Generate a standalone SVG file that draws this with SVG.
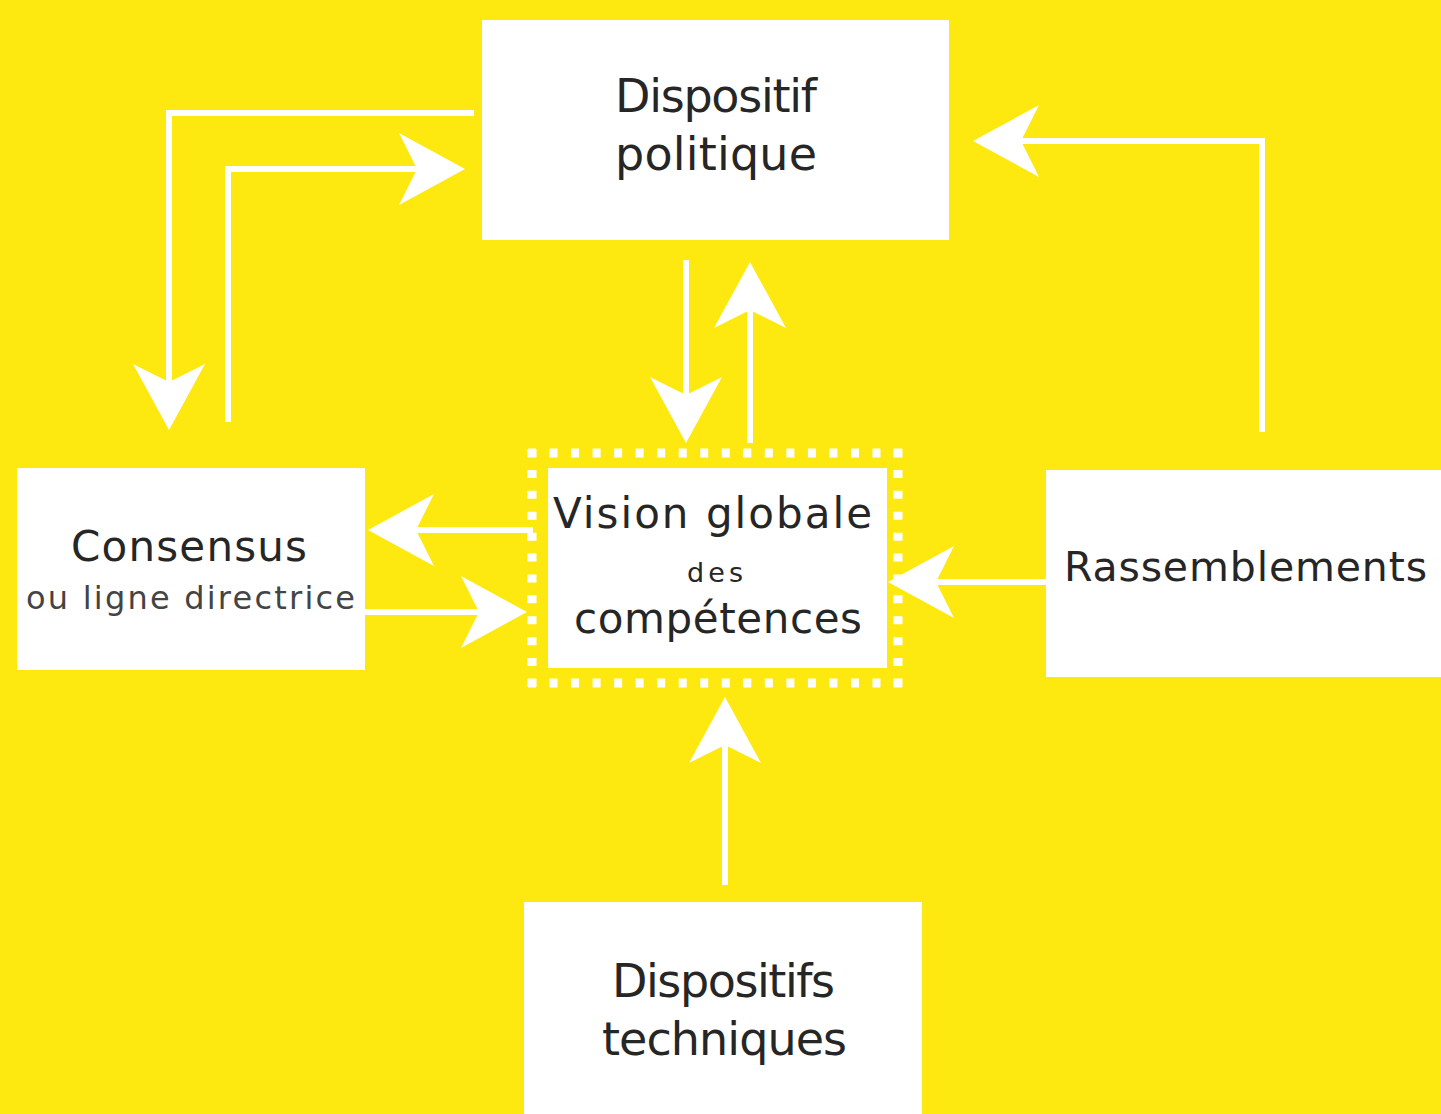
<svg xmlns="http://www.w3.org/2000/svg" width="1441" height="1114" viewBox="0 0 1441 1114">
  <style>
    .box { fill: #ffffff; }
    .lbl { font-family: "DejaVu Sans", "Liberation Sans", sans-serif; fill: #262626; }
    .sub { fill: #444444; }
    .conn { fill: none; stroke: #ffffff; stroke-width: 6; stroke-linejoin: miter; stroke-linecap: butt; }
    .dots { fill: none; stroke: #ffffff; stroke-width: 9; }
  </style>
  <defs>
    <marker id="ah" markerUnits="userSpaceOnUse" viewBox="0 0 66 72" refX="18" refY="36" markerWidth="66" markerHeight="72" orient="auto">
      <path d="M0,0 L66,36 L0,72 L18,36 Z" fill="#ffffff"/>
    </marker>
  </defs>
  <rect x="0" y="0" width="1441" height="1114" fill="#FDE80F"/>

  <g id="connectors">
    <path class="conn" d="M474,113 H169 V382" marker-end="url(#ah)"/>
    <path class="conn" d="M228,422 V169 H417" marker-end="url(#ah)"/>
    <path class="conn" d="M1262,432 V141 H1021" marker-end="url(#ah)"/>
    <path class="conn" d="M686,260 V395" marker-end="url(#ah)"/>
    <path class="conn" d="M750,443 V310" marker-end="url(#ah)"/>
    <path class="conn" d="M533,530 H416" marker-end="url(#ah)"/>
    <path class="conn" d="M365,612 H479" marker-end="url(#ah)"/>
    <path class="conn" d="M1047,582 H936" marker-end="url(#ah)"/>
    <path class="conn" d="M725,885 V745" marker-end="url(#ah)"/>
  </g>

  <g id="dispositif-politique">
    <rect class="box" x="482" y="20" width="467" height="220"/>
    <text class="lbl" x="615" y="112" font-size="46" textLength="202" lengthAdjust="spacing">Dispositif</text>
    <text class="lbl" x="615" y="170" font-size="46" textLength="202" lengthAdjust="spacing">politique</text>
  </g>

  <g id="vision-globale">
    <path class="dots" d="M528,453 H902 M528,683 H902" stroke-dasharray="8 13.53"/>
    <path class="dots" d="M532,449 V687 M898,449 V687" stroke-dasharray="8 12.91"/>
    <rect class="box" x="548" y="468" width="339" height="200"/>
    <text class="lbl" x="553" y="528" font-size="42" textLength="319" lengthAdjust="spacing">Vision globale</text>
    <text class="lbl" x="687" y="582" font-size="27" textLength="56" lengthAdjust="spacing">des</text>
    <text class="lbl" x="574" y="633" font-size="42" textLength="288" lengthAdjust="spacing">compétences</text>
  </g>

  <g id="consensus">
    <rect class="box" x="17" y="468" width="348" height="202"/>
    <text class="lbl" x="71" y="561" font-size="42" textLength="236" lengthAdjust="spacing">Consensus</text>
    <text class="lbl sub" x="26" y="609" font-size="32" textLength="329" lengthAdjust="spacing">ou ligne directrice</text>
  </g>

  <g id="rassemblements">
    <rect class="box" x="1046" y="470" width="395" height="207"/>
    <text class="lbl" x="1064" y="581" font-size="41" textLength="363" lengthAdjust="spacing">Rassemblements</text>
  </g>

  <g id="dispositifs-techniques">
    <rect class="box" x="524" y="902" width="398" height="212"/>
    <text class="lbl" x="612" y="997" font-size="46" textLength="223" lengthAdjust="spacing">Dispositifs</text>
    <text class="lbl" x="602" y="1055" font-size="46" textLength="245" lengthAdjust="spacing">techniques</text>
  </g>
</svg>
